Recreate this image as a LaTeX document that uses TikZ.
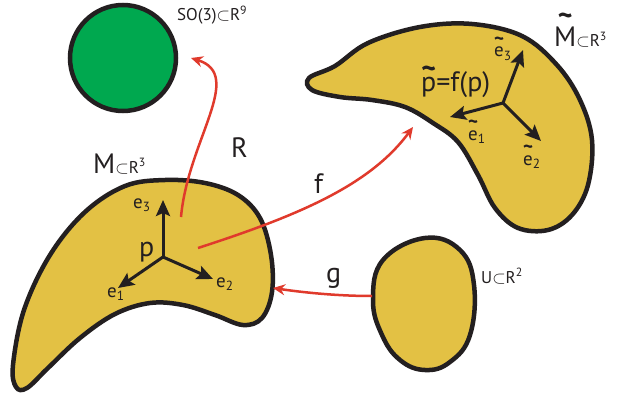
\documentclass[tikz,border=0pt]{standalone}
\usepackage{fontspec}
\usepackage{graphicx}
\setmainfont{PT Sans}
\usetikzlibrary{arrows.meta}
\definecolor{MfdYellow}{HTML}{E3C144}
\definecolor{MfdGreen}{HTML}{00A84F}
\definecolor{MfdRed}{HTML}{E03A2C}
\definecolor{MfdInk}{HTML}{231F20}
\newcommand\tld[3][1]{\leavevmode\ooalign{#3\cr\hidewidth\raisebox{#2}{\scalebox{#1}[1]{\bfseries\char"7E}}\hidewidth\cr}}
\newcommand\smallsz{\fontsize{17}{18}\selectfont}

\begin{document}
\begin{tikzpicture}[x=1pt,y=-1pt,
  blob/.style={draw=MfdInk,line width=4.5pt,fill=MfdYellow},
  frame/.style={draw=MfdInk,line width=3pt,-{Stealth[length=16pt,width=14pt,inset=3pt]}},
  map/.style={draw=MfdRed,line width=2.5pt,-{Stealth[length=12pt,width=11pt,inset=4pt]}},
  big/.style={font=\fontsize{28}{30}\selectfont,text=MfdInk,inner sep=0pt,anchor=base west},
  med/.style={font=\fontsize{19}{20}\selectfont,text=MfdInk,inner sep=0pt,anchor=base west},
  sml/.style={font=\smallsz,text=MfdInk,inner sep=0pt,anchor=base west}]
\path[use as bounding box] (0,0) rectangle (621,396);
\fill[white] (0,0) rectangle (621,396);
\draw[draw=MfdInk,line width=4.5pt,fill=MfdGreen] (123,58) circle[radius=53pt];
\draw[blob] plot[smooth cycle,tension=0.6] coordinates {(13,365) (24,310) (50,255) (85,212) (125,186) (165,180) (205,183) (238,195) (260,218) (271,255) (272,292) (262,318) (243,325) (215,315) (183,305) (150,303) (115,314) (80,338) (48,368) (27,388) (16,387)};
\draw[blob] plot[smooth cycle,tension=0.6] coordinates {(309,78) (335,66) (368,43) (420,27) (472,24) (522,36) (557,65) (580,100) (592,140) (588,185) (572,215) (548,230) (518,228) (495,208) (478,175) (458,142) (433,123) (405,107) (372,100) (340,97) (312,90)};
\draw[blob] plot[smooth cycle,tension=0.7] coordinates {(425,238) (460,250) (474,285) (470,335) (450,362) (425,370) (400,360) (382,335) (373,300) (383,260)};
\coordinate (p) at (163,257);
\coordinate (e1tip) at (118,288);
\coordinate (e2tip) at (213,279);
\coordinate (e3tip) at (163,200);
\coordinate (pt) at (503,103);
\coordinate (te1tip) at (450,117);
\coordinate (te2tip) at (541,141);
\coordinate (te3tip) at (523,50);
\draw[frame] (p) -- (e1tip);
\draw[frame] (p) -- (e2tip);
\draw[frame] (p) -- (e3tip);
\draw[frame] (pt) -- (te1tip);
\draw[frame] (pt) -- (te2tip);
\draw[frame] (pt) -- (te3tip);
\coordinate (Rstart) at (181,217);
\coordinate (Rend) at (191,58);
\coordinate (fstart) at (198,248);
\coordinate (fend) at (413,127);
\coordinate (gstart) at (372,296);
\coordinate (gend) at (273,288);
\draw[map] (Rstart) .. controls (188,140) and (245,75) .. (Rend);
\draw[map] (fstart) .. controls (300,215) and (370,185) .. (fend);
\draw[map] (gstart) .. controls (335,296) and (300,292) .. (gend);
\node[sml] (lblSO) at (177,21) {SO(3)$\subset$R\textsuperscript{9}};
\node[big] (lblR) at (231,157) {R};
\node[big] (lblM) at (93,173) {M{\smallsz$\subset$R\textsuperscript{3}}};
\node[big] (lblf) at (314,193) {f};
\node[big] (lblg) at (326,282) {g};
\node[big] (lblp) at (139,256) {p};
\node[med] (lble1) at (107,297) {e\textsubscript{1}};
\node[med] (lble2) at (216,287) {e\textsubscript{2}};
\node[med] (lble3) at (133,208) {e\textsubscript{3}};
\node[sml] (lblU) at (481,283) {U$\subset$R\textsuperscript{2}};
\node[big] (lblMt) at (554,47) {\tld{.75em}{M}{\smallsz$\subset$R\textsuperscript{3}}};
\node[big] (lblpt) at (421,92) {\tld{.48em}{p}=f(p)};
\node[med] (lblte1) at (468,140) {\tld{.58em}{e}\textsubscript{1}};
\node[med] (lblte2) at (523,165) {\tld{.58em}{e}\textsubscript{2}};
\node[med] (lblte3) at (494,57) {\tld{.58em}{e}\textsubscript{3}};
\end{tikzpicture}
\end{document}
